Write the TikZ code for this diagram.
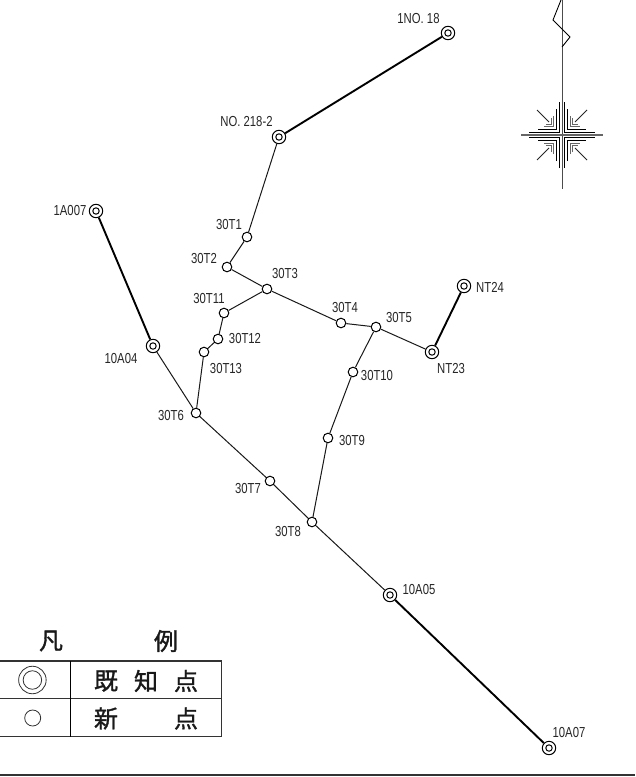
\documentclass[tikz,border=0pt]{standalone}
\usepackage{fontspec}
\setmainfont[FakeStretch=0.78]{Liberation Sans}
\newfontfamily\cjk[FakeBold=1.3]{Noto Sans CJK JP}
\tikzset{
  known/.style={circle,draw=black,line width=1pt,fill=white,minimum size=13.4pt,inner sep=0pt,
    path picture={\draw[black,line width=1pt] (path picture bounding box.center) circle (3.2pt);}},
  newpt/.style={circle,draw=black,line width=1pt,fill=white,minimum size=9.6pt,inner sep=0pt},
  thin line/.style={line width=1pt,black!90},
  thick line/.style={line width=1.9pt,black},
  lab/.style={font=\fontsize{14.5}{15}\selectfont,text=black!85,inner sep=0pt},
  legline/.style={line width=1.1pt,black!80},
  legtxt/.style={font=\cjk\fontsize{24}{26}\selectfont,inner sep=0pt,text=black!90},
  roseA/.style={line width=0.9pt,black},
  roseB/.style={line width=0.9pt,black!60},
}
\begin{document}
\begin{tikzpicture}[x=1pt,y=-1pt]
\useasboundingbox (0,0) rectangle (635,777);
\fill[white] (0,0) rectangle (635,777);
% points
\node[known] (a1) at (448,33) {};
\node[known] (a2) at (279,137) {};
\node[newpt] (t1) at (247,237) {};
\node[newpt] (t2) at (227,267) {};
\node[newpt] (t3) at (267,289) {};
\node[newpt] (t4) at (341,323) {};
\node[newpt] (t5) at (376,327) {};
\node[known] (nt23) at (432,352) {};
\node[known] (nt24) at (464,286) {};
\node[newpt] (t10) at (353,372) {};
\node[newpt] (t9) at (328,438) {};
\node[newpt] (t8) at (312,522) {};
\node[newpt] (t7) at (270,481) {};
\node[newpt] (t6) at (196,413) {};
\node[known] (a04) at (153,346) {};
\node[known] (a007) at (96,211) {};
\node[newpt] (t11) at (224,313) {};
\node[newpt] (t12) at (218,339) {};
\node[newpt] (t13) at (204,352) {};
\node[known] (a05) at (390,595) {};
\node[known] (a07) at (549,748) {};
% connectors
\draw[thick line] (a1) -- (a2);
\draw[thick line] (a007) -- (a04);
\draw[thick line] (nt23) -- (nt24);
\draw[thick line] (a05) -- (a07);
\draw[thin line] (a2) -- (t1);
\draw[thin line] (t1) -- (t2);
\draw[thin line] (t2) -- (t3);
\draw[thin line] (t3) -- (t4);
\draw[thin line] (t4) -- (t5);
\draw[thin line] (t5) -- (nt23);
\draw[thin line] (t5) -- (t10);
\draw[thin line] (t10) -- (t9);
\draw[thin line] (t9) -- (t8);
\draw[thin line] (t3) -- (t11);
\draw[thin line] (t11) -- (t12);
\draw[thin line] (t12) -- (t13);
\draw[thin line] (t13) -- (t6);
\draw[thin line] (a04) -- (t6);
\draw[thin line] (t6) -- (t7);
\draw[thin line] (t7) -- (t8);
\draw[thin line] (t8) -- (a05);
% labels
\node[lab] (l1) at (418.5,19) {1NO. 18};
\node[lab] (l2) at (246.5,122) {NO. 218-2};
\node[lab] (l3) at (229,225) {30T1};
\node[lab] (l4) at (204,259) {30T2};
\node[lab] (l5) at (285,274) {30T3};
\node[lab] (l6) at (209,299) {30T11};
\node[lab] (l7) at (245,339) {30T12};
\node[lab] (l8) at (226,369) {30T13};
\node[lab] (l9) at (345,308) {30T4};
\node[lab] (l10) at (399,318) {30T5};
\node[lab] (l11) at (490,287) {NT24};
\node[lab] (l12) at (451,369) {NT23};
\node[lab] (l13) at (377,376) {30T10};
\node[lab] (l14) at (352,441) {30T9};
\node[lab] (l15) at (171,416) {30T6};
\node[lab] (l16) at (248,489) {30T7};
\node[lab] (l17) at (288,532) {30T8};
\node[lab] (l18) at (419,590) {10A05};
\node[lab] (l19) at (569,732) {10A07};
\node[lab] (l20) at (121,359) {10A04};
\node[lab] (l21) at (70,211) {1A007};
% north arrow
\draw[line width=1pt,black!70] (562,0) -- (562,189);
\draw[line width=0.9pt,black] (561,0) -- (553,20) -- (570,37) -- (562,47);
\draw[line width=1.4pt,black!60] (521,135) -- (603,135);
\foreach \sx/\sy in {1/1,1/-1,-1/1,-1/-1}{
  \begin{scope}[shift={(562,135)},xscale=\sx,yscale=\sy]
    \draw[roseA] (2.7,33) -- (2.7,2.7) -- (33,2.7);
    \draw[roseA] (5.4,26) -- (5.4,5.4) -- (24,5.4);
    \draw[roseB] (8.1,19) -- (8.1,8.1) -- (18,8.1);
    \draw[roseB] (10.8,17) -- (10.8,10.8) -- (16,10.8);
    \draw[line width=0.8pt,black!85] (13,13) -- (25,25);
  \end{scope}
}
% legend
\node[legtxt] (lgA) at (51,641) {凡};
\node[legtxt] (lgB) at (166,641) {例};
\draw[legline] (0,661) -- (221.3,661) -- (221.3,736.7) -- (0,736.7);
\draw[legline] (0,698.8) -- (221.3,698.8);
\draw[line width=0.9pt,black] (70.3,661) -- (70.3,736.7);
\node[circle,draw=black!80,line width=0.8pt,minimum size=27.5pt,inner sep=0pt] (lk1) at (32.4,680) {};
\node[circle,draw=black!80,line width=0.8pt,minimum size=18.5pt,inner sep=0pt] (lk2) at (32.4,680) {};
\node[circle,draw=black!80,line width=0.8pt,minimum size=16pt,inner sep=0pt] (lk3) at (32.7,718) {};
\node[legtxt] (k1) at (106,681) {既};
\node[legtxt] (k2) at (146,681) {知};
\node[legtxt] (k3) at (186,681) {点};
\node[legtxt] (k4) at (106,718.5) {新};
\node[legtxt] (k5) at (186,718.5) {点};
\draw[line width=2pt,black!80] (0,775) -- (635,775);
\end{tikzpicture}
\end{document}
